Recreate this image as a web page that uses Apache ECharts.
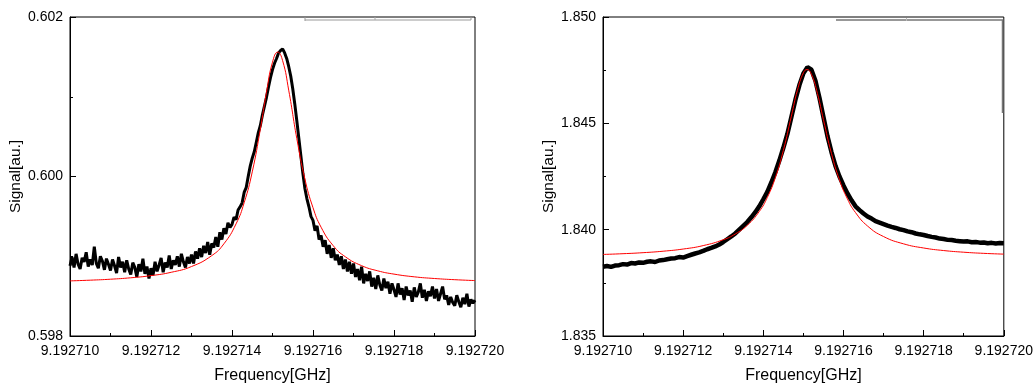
<!DOCTYPE html>
<html>
<head>
<meta charset="utf-8">
<script src="https://cdn.jsdelivr.net/npm/echarts@6/dist/echarts.min.js"></script>
<style>
html,body{margin:0;padding:0;background:#fff;}
#chart{width:1036px;height:389px;}
</style>
</head>
<body>
<div id="chart"></div>
<script>
// ---- Data ----
const xTickLabels = ['9.192710','9.192712','9.192714','9.192716','9.192718','9.192720'];
const leftYTicks = ['0.598','0.600','0.602'];
const rightYTicks = ['1.835','1.840','1.845','1.850'];

// left measured data: sampled every 0.05 kHz from 9.192710 GHz
const leftStartGHz = 9.192710;
const leftStepGHz = 0.00000005;
const leftSignal = [
0.59888, 0.59899, 0.59886, 0.59903, 0.59890, 0.59884, 0.59898, 0.59893, 0.59905, 0.59887,
0.59896, 0.59889, 0.59912, 0.59891, 0.59885, 0.59900, 0.59894, 0.59883, 0.59897, 0.59890,
0.59882, 0.59896, 0.59888, 0.59879, 0.59899, 0.59886, 0.59893, 0.59880, 0.59895, 0.59884,
0.59877, 0.59892, 0.59886, 0.59874, 0.59890, 0.59881, 0.59897, 0.59878, 0.59887, 0.59872,
0.59885, 0.59876, 0.59893, 0.59881, 0.59889, 0.59898, 0.59880, 0.59892, 0.59886, 0.59901,
0.59884, 0.59895, 0.59889, 0.59900, 0.59887, 0.59903, 0.59893, 0.59886, 0.59899, 0.59891,
0.59902, 0.59891, 0.59906, 0.59897, 0.59910, 0.59899, 0.59913, 0.59904, 0.59918, 0.59902,
0.59916, 0.59911, 0.59924, 0.59912, 0.59930, 0.59921, 0.59935, 0.59928, 0.59942, 0.59936,
0.59940, 0.59949, 0.59946, 0.59958, 0.59962, 0.59967, 0.59980, 0.59986, 0.60000, 0.60013,
0.60023, 0.60031, 0.60043, 0.60055, 0.60064, 0.60077, 0.60088, 0.60099, 0.60112, 0.60124,
0.60134, 0.60142, 0.60148, 0.60155, 0.60158, 0.60160, 0.60155, 0.60148, 0.60138, 0.60126,
0.60110, 0.60091, 0.60070, 0.60048, 0.60026, 0.60004, 0.59985, 0.59972, 0.59962, 0.59950,
0.59945, 0.59932, 0.59938, 0.59921, 0.59926, 0.59912, 0.59920, 0.59903, 0.59914, 0.59898,
0.59910, 0.59895, 0.59902, 0.59889, 0.59900, 0.59884, 0.59896, 0.59881, 0.59893, 0.59878,
0.59891, 0.59874, 0.59884, 0.59870, 0.59887, 0.59866, 0.59878, 0.59869, 0.59881, 0.59862,
0.59873, 0.59859, 0.59876, 0.59864, 0.59857, 0.59872, 0.59860, 0.59868, 0.59853, 0.59866,
0.59858, 0.59849, 0.59866, 0.59852, 0.59860, 0.59845, 0.59862, 0.59851, 0.59857, 0.59843,
0.59861, 0.59849, 0.59855, 0.59866, 0.59848, 0.59858, 0.59844, 0.59856, 0.59850, 0.59862,
0.59847, 0.59859, 0.59844, 0.59853, 0.59862, 0.59846, 0.59851, 0.59839, 0.59849, 0.59842,
0.59838, 0.59851, 0.59843, 0.59836, 0.59848, 0.59840, 0.59853, 0.59837, 0.59846, 0.59841,
0.59845
];

// right measured data: sampled every 0.1 kHz from 9.192710 GHz
const rightStartGHz = 9.192710;
const rightStepGHz = 0.0000001;
const rightSignal = [
1.83826, 1.83829, 1.83825, 1.83831, 1.83833, 1.83838, 1.83836, 1.83843, 1.83841, 1.83846,
1.83844, 1.83849, 1.83851, 1.83848, 1.83855, 1.83857, 1.83861, 1.83864, 1.83866, 1.83871,
1.83869, 1.83876, 1.83882, 1.83888, 1.83893, 1.83900, 1.83908, 1.83914, 1.83921, 1.83930,
1.83942, 1.83955, 1.83968, 1.83982, 1.84000, 1.84018, 1.84036, 1.84058, 1.84082, 1.84110,
1.84143, 1.84178, 1.84222, 1.84270, 1.84325, 1.84385, 1.84450, 1.84530, 1.84610, 1.84680,
1.84735, 1.84764, 1.84752, 1.84700, 1.84620, 1.84530, 1.84440, 1.84365, 1.84300, 1.84250,
1.84208, 1.84170, 1.84138, 1.84110, 1.84092, 1.84076, 1.84062, 1.84052, 1.84040, 1.84033,
1.84026, 1.84019, 1.84013, 1.84008, 1.84002, 1.83998, 1.83992, 1.83988, 1.83982, 1.83978,
1.83975, 1.83970, 1.83966, 1.83963, 1.83958, 1.83956, 1.83952, 1.83951, 1.83948, 1.83946,
1.83944, 1.83945, 1.83941, 1.83942, 1.83939, 1.83940, 1.83936, 1.83938, 1.83935, 1.83937,
1.83936
];

// fitted Lorentzian curves (red)
const leftFitFreq = [
9.1927100, 9.1927105, 9.1927110, 9.1927115, 9.1927120, 9.1927125, 9.1927130, 9.1927135,
9.1927138, 9.1927141, 9.1927143, 9.1927145, 9.1927147, 9.19271485, 9.1927150, 9.19271513,
9.19271525, 9.1927154, 9.1927156, 9.1927158, 9.1927160, 9.1927162, 9.1927165, 9.1927168,
9.1927172, 9.1927176, 9.1927180, 9.1927185, 9.1927190, 9.1927195, 9.1927200
];
const leftFit = [
0.598691, 0.598700, 0.598712, 0.598730, 0.598757, 0.598799, 0.598871, 0.599008,
0.599156, 0.599406, 0.599671, 0.600058, 0.600594, 0.601054, 0.601434, 0.601560,
0.601452, 0.601083, 0.600476, 0.599969, 0.599609, 0.599364, 0.599132, 0.598993,
0.598882, 0.598817, 0.598776, 0.598742, 0.598721, 0.598706, 0.598695
];

const rightFitFreq = [
9.1927100, 9.1927105, 9.1927110, 9.1927115, 9.1927120, 9.1927125, 9.1927130, 9.1927133,
9.1927136, 9.1927139, 9.1927141, 9.1927143, 9.1927145, 9.1927147, 9.19271485, 9.1927150,
9.19271509, 9.1927152, 9.19271535, 9.1927155, 9.1927157, 9.1927159, 9.1927161, 9.1927163,
9.1927166, 9.1927170, 9.1927175, 9.1927180, 9.1927185, 9.1927190, 9.1927195, 9.1927200
];
const rightFit = [
1.838835, 1.838870, 1.838918, 1.838987, 1.839089, 1.839251, 1.839527, 1.839796,
1.840206, 1.840858, 1.841517, 1.842446, 1.843729, 1.845340, 1.846549, 1.847378,
1.847530, 1.847304, 1.846401, 1.845170, 1.843584, 1.842339, 1.841440, 1.840804,
1.840172, 1.839676, 1.839333, 1.839138, 1.839018, 1.838940, 1.838886, 1.838850
];

// ---- Build series data ----
function sampled(values, start, step){
  return values.map((v,i)=>[start + i*step, v]);
}
function paired(xs, ys){ return xs.map((x,i)=>[x, ys[i]]); }

const FONT = 'Arial, "Liberation Sans", sans-serif';
const xLabelSet = new Set(xTickLabels);

function xAxisCfg(gridIndex){
  return {
    type:'value', gridIndex,
    min: parseFloat(xTickLabels[0]), max: parseFloat(xTickLabels[xTickLabels.length-1]),
    interval: 0.000002,
    name:'Frequency[GHz]', nameLocation:'middle', nameGap:32,
    nameTextStyle:{fontFamily:FONT, fontSize:16, color:'#000'},
    axisLine:{show:true, onZero:false, lineStyle:{color:'#000', width:1}},
    axisTick:{show:true, inside:true, length:6, lineStyle:{color:'#000'}},
    minorTick:{show:true, splitNumber:2, length:3, lineStyle:{color:'#000'}},
    splitLine:{show:false}, minorSplitLine:{show:false},
    axisLabel:{fontFamily:FONT, fontSize:14, color:'#000', margin:8,
      showMinLabel:true, showMaxLabel:true,
      formatter:(v)=>{ const s=v.toFixed(6); return xLabelSet.has(s)?s:''; }}
  };
}
function yAxisCfg(gridIndex, ticks, interval, digits){
  const set = new Set(ticks);
  return {
    type:'value', gridIndex,
    min: parseFloat(ticks[0]), max: parseFloat(ticks[ticks.length-1]),
    interval,
    name:'Signal[au.]', nameLocation:'middle', nameGap:43, nameRotate:90,
    nameTextStyle:{fontFamily:FONT, fontSize:15.5, color:'#000'},
    axisLine:{show:true, onZero:false, lineStyle:{color:'#000', width:1}},
    axisTick:{show:true, inside:true, length:6, lineStyle:{color:'#000'}},
    minorTick:{show:true, splitNumber:2, length:3, lineStyle:{color:'#000'}},
    splitLine:{show:false}, minorSplitLine:{show:false},
    axisLabel:{fontFamily:FONT, fontSize:14, color:'#000', margin:7,
      showMinLabel:true, showMaxLabel:true,
      formatter:(v)=>{ const s=v.toFixed(digits); return set.has(s)?s:''; }}
  };
}

const gridBase = {show:true, borderColor:'#000', borderWidth:1, backgroundColor:'#fff', containLabel:false};

const option = {
  animation:false,
  backgroundColor:'#fff',
  grid:[
    Object.assign({left:70, top:17, width:405, height:326}, gridBase),
    Object.assign({left:603, top:17, width:404, height:326}, gridBase)
  ],
  xAxis:[xAxisCfg(0), xAxisCfg(1)],
  yAxis:[yAxisCfg(0, leftYTicks, 0.002, 3), yAxisCfg(1, rightYTicks, 0.005, 3)],
  series:[
    {type:'line', xAxisIndex:0, yAxisIndex:0, data:sampled(leftSignal, leftStartGHz, leftStepGHz), showSymbol:false,
     lineStyle:{color:'#000', width:3}, z:2, silent:true},
    {type:'line', xAxisIndex:0, yAxisIndex:0, data:paired(leftFitFreq, leftFit), showSymbol:false, smooth:true,
     lineStyle:{color:'#ff0000', width:1}, z:3, silent:true},
    {type:'line', xAxisIndex:1, yAxisIndex:1, data:sampled(rightSignal, rightStartGHz, rightStepGHz), showSymbol:false,
     lineStyle:{color:'#000', width:4.5}, z:2, silent:true},
    {type:'line', xAxisIndex:1, yAxisIndex:1, data:paired(rightFitFreq, rightFit), showSymbol:false, smooth:true,
     lineStyle:{color:'#ff0000', width:1}, z:3, silent:true}
  ],
  graphic:[
    // remnants of the cropped legend boxes at the top of each panel
    {type:'polyline', shape:{points:[[305,20],[471,20],[471,17]]}, style:{stroke:'#999', lineWidth:1, fill:null}, z:10},
    {type:'line', shape:{x1:375,y1:17,x2:375,y2:20}, style:{stroke:'#aaa', lineWidth:1}, z:10},
    {type:'line', shape:{x1:305,y1:17,x2:305,y2:21}, style:{stroke:'#999', lineWidth:1}, z:10},
    {type:'polyline', shape:{points:[[836,20],[1002.5,20],[1002.5,113]]}, style:{stroke:'#777', lineWidth:1.5, fill:null}, z:10},
    {type:'line', shape:{x1:906.5,y1:18,x2:906.5,y2:21}, style:{stroke:'#bbb', lineWidth:1}, z:10}
  ]
};

const chart = echarts.init(document.getElementById('chart'), null, {renderer:'canvas'});
chart.setOption(option);
</script>
</body>
</html>
